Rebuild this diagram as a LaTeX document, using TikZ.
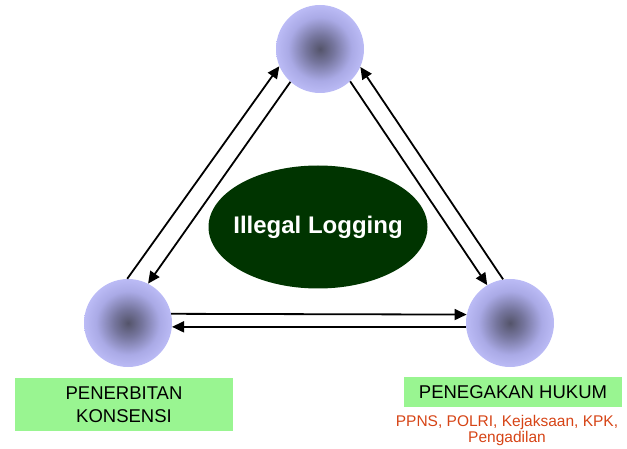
\documentclass[tikz,border=0pt]{standalone}
\usepackage{fontspec}
\setmainfont{Liberation Sans}
\usetikzlibrary{arrows.meta,shapes.geometric}
\definecolor{balldark}{RGB}{84,84,106}
\definecolor{ballmid}{RGB}{118,118,158}
\definecolor{ballmid2}{RGB}{170,170,230}
\definecolor{balllight}{RGB}{192,192,250}
\definecolor{ellgreen}{RGB}{0,52,0}
\definecolor{boxgreen}{RGB}{153,245,145}
\definecolor{orgtext}{RGB}{214,68,22}
\pgfdeclareradialshading{ball}{\pgfpoint{0bp}{0bp}}{color(0bp)=(balldark); color(8bp)=(ballmid); color(18bp)=(ballmid2); color(27bp)=(balllight); color(50bp)=(balllight)}
\tikzset{
  ballnode/.style={circle, inner sep=0pt, minimum size=88pt, shading=ball},
  arr/.style={line width=1.8pt, -{Triangle[length=12pt,width=11pt]}},
  labelbox/.style={fill=boxgreen, inner sep=0pt, align=center, font=\fontsize{18.5}{23.5}\selectfont},
}
\begin{document}
\begin{tikzpicture}[x=1pt,y=-1pt]
\useasboundingbox (0,0) rectangle (627,449);
\node[ballnode] (T) at (320,49) {};
\node[ballnode] (L) at (128,323) {};
\node[ballnode] (R) at (510,323) {};
\node[ellipse, fill=ellgreen, minimum width=219pt, minimum height=123pt, inner sep=0pt,
      label={[text=white, font=\fontsize{24}{28}\selectfont\bfseries]center:Illegal Logging}] (E) at (318,227) {};
% left pair
\draw[arr] (L.91) -- (T.203);
\draw[arr] (T.228) -- (L.63);
% right pair
\draw[arr] (R.99) -- (T.-24);
\draw[arr] (T.-47) -- (R.121);
% bottom pair
\draw[arr] (L.12) -- (R.169);
\draw[arr] (R.185) -- (L.-5);
% labels
\node[labelbox, minimum width=218pt, minimum height=53pt] (LB) at (124,404.5) {PENERBITAN\\KONSENSI};
\node[labelbox, minimum width=218pt, minimum height=30pt] (RB) at (513,392) {PENEGAKAN HUKUM};
\node[text=orgtext, align=center, inner sep=0pt, font=\fontsize{15.5}{16.7}\selectfont] (RT) at (507,430.5) {PPNS, POLRI, Kejaksaan, KPK,\\Pengadilan};
\end{tikzpicture}
\end{document}
